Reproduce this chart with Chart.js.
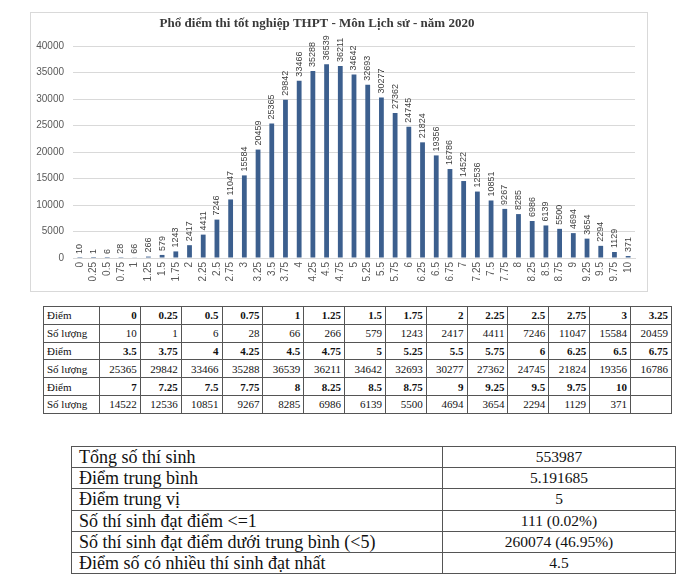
<!DOCTYPE html>
<html>
<head>
<meta charset="utf-8">
<script src="https://cdn.jsdelivr.net/npm/chart.js@4.4.1/dist/chart.umd.min.js"></script>
<style>
  body { margin: 0; background: #fff; width: 700px; height: 586px; position: relative; overflow: hidden; }
  #chartBox { position: absolute; left: 30px; top: 12px; width: 618px; height: 280px; border: 1px solid #d9d9d9; box-sizing: border-box; }
  table { position: absolute; border-collapse: collapse; table-layout: fixed; color: #111; }
  td { border: 1px solid #555; padding: 0; white-space: nowrap; overflow: hidden; font-family: "Liberation Serif", "Times New Roman", "DejaVu Serif", serif; }
  #scoreTable { left: 43px; top: 306px; width: 629px; }
  #scoreTable tr { height: 17.8px; }
  #scoreTable td { text-align: right; padding-right: 3px; font-size: 11px; }
  #scoreTable td.lbl { text-align: left; padding-left: 3px; padding-right: 0; }
  #scoreTable tr.diem td { font-weight: bold; }
  #scoreTable tr.diem td.lbl { font-weight: normal; }
  #statTable { left: 71px; top: 446px; width: 605px; }
  #statTable tr { height: 21.2px; }
  #statTable td { line-height: 18px; }
  #statTable td.lbl { padding-left: 7px; font-size: 18px; }
  #statTable td.val { text-align: center; font-size: 15.5px; }
</style>
</head>
<body>
<div id="chartBox"><canvas id="chart"></canvas></div>
<table id="scoreTable"></table>
<table id="statTable"></table>

<script>
/* ---------- dữ liệu ---------- */
const chartTitle = "Phổ điểm thi tốt nghiệp THPT - Môn Lịch sử - năm 2020";

const scores = ["0", "0.25", "0.5", "0.75", "1", "1.25", "1.5", "1.75", "2", "2.25",
    "2.5", "2.75", "3", "3.25", "3.5", "3.75", "4", "4.25", "4.5", "4.75",
    "5", "5.25", "5.5", "5.75", "6", "6.25", "6.5", "6.75", "7", "7.25",
    "7.5", "7.75", "8", "8.25", "8.5", "8.75", "9", "9.25", "9.5", "9.75", "10"];

const counts = [10, 1, 6, 28, 66, 266, 579, 1243, 2417, 4411,
    7246, 11047, 15584, 20459, 25365, 29842, 33466, 35288, 36539, 36211,
    34642, 32693, 30277, 27362, 24745, 21824, 19356, 16786, 14522, 12536,
    10851, 9267, 8285, 6986, 6139, 5500, 4694, 3654, 2294, 1129, 371];

const yTicks = [0, 5000, 10000, 15000, 20000, 25000, 30000, 35000, 40000];

const statLabels = ["Tổng số thí sinh", "Điểm trung bình", "Điểm trung vị",
    "Số thí sinh đạt điểm <=1", "Số thí sinh đạt điểm dưới trung bình (<5)",
    "Điểm số có nhiều thí sinh đạt nhất"];
const statValues = ["553987", "5.191685", "5", "111 (0.02%)", "260074 (46.95%)", "4.5"];


/* ---------- bảng phổ điểm ---------- */
const scoreTable = document.getElementById("scoreTable");
const perRow = 14;

let colgroup = "<colgroup><col style='width:56px'>";
for (let i = 0; i < perRow; i++) colgroup += "<col>";
colgroup += "</colgroup>";
let html = colgroup;

for (let start = 0; start < scores.length; start += perRow) {
    let r1 = "<tr class='diem'><td class='lbl'>Điểm</td>";
    let r2 = "<tr><td class='lbl'>Số lượng</td>";
    for (let i = start; i < start + perRow; i++) {
        r1 += "<td>" + (i < scores.length ? scores[i] : "") + "</td>";
        r2 += "<td>" + (i < counts.length ? counts[i] : "") + "</td>";
    }
    html += r1 + "</tr>" + r2 + "</tr>";
}
scoreTable.innerHTML = html;


/* ---------- bảng thống kê ---------- */
const statTable = document.getElementById("statTable");
let shtml = "<colgroup><col style='width:371px'><col></colgroup>";
statLabels.forEach((lbl, i) => {
    shtml += "<tr><td class='lbl'>" + lbl.replace("<", "&lt;") + "</td><td class='val'>" + statValues[i] + "</td></tr>";
});
statTable.innerHTML = shtml;


/* ---------- biểu đồ ---------- */
const titlePlugin = {
    id: "tieuDe",
    afterDraw(chart) {
        const ctx = chart.ctx;
        ctx.save();
        ctx.font = "bold 13px 'Liberation Serif'";
        ctx.fillStyle = "#3a3a3a";
        ctx.textAlign = "center";
        ctx.textBaseline = "middle";
        ctx.fillText(chartTitle, 286, 11);
        ctx.restore();
    }
};

const labelPlugin = {
    id: "nhanCot",
    afterDatasetsDraw(chart) {
        const ctx = chart.ctx;
        const meta = chart.getDatasetMeta(0);
        ctx.save();
        ctx.font = "9px 'Liberation Sans'";
        ctx.fillStyle = "#404040";
        ctx.textAlign = "left";
        ctx.textBaseline = "middle";
        meta.data.forEach((bar, i) => {
            ctx.save();
            ctx.translate(bar.x, bar.y - 4);
            ctx.rotate(-Math.PI / 2);
            ctx.fillText(String(counts[i]), 0, 0);
            ctx.restore();
        });
        ctx.restore();
    }
};

new Chart(document.getElementById("chart"), {
    type: "bar",
    data: {
        labels: scores,
        datasets: [{
            data: counts,
            backgroundColor: "#3c5f8e",
            barPercentage: 0.35,
            categoryPercentage: 1
        }]
    },
    options: {
        responsive: true,
        maintainAspectRatio: false,
        animation: false,
        layout: { padding: { top: 33, right: 12, left: 0, bottom: 0 } },
        plugins: {
            legend: { display: false },
            title: { display: false },
            tooltip: { enabled: false }
        },
        scales: {
            x: {
                grid: { display: false, drawTicks: false },
                border: { display: true, color: "#d9d9d9" },
                ticks: {
                    minRotation: 90,
                    maxRotation: 90,
                    autoSkip: false,
                    padding: 4,
                    color: "#595959",
                    font: { family: "Liberation Sans", size: 10 }
                },
                afterFit(scale) { scale.height = 33; }
            },
            y: {
                min: 0,
                max: 40000,
                afterBuildTicks(scale) { scale.ticks = yTicks.map(v => ({ value: v })); },
                grid: { color: "#d9d9d9", drawTicks: false },
                border: { display: false },
                ticks: {
                    padding: 9,
                    color: "#595959",
                    font: { family: "Liberation Sans", size: 10 },
                    callback: v => String(v)
                },
                afterFit(scale) { scale.width = 42; }
            }
        }
    },
    plugins: [titlePlugin, labelPlugin]
});
</script>
</body>
</html>
